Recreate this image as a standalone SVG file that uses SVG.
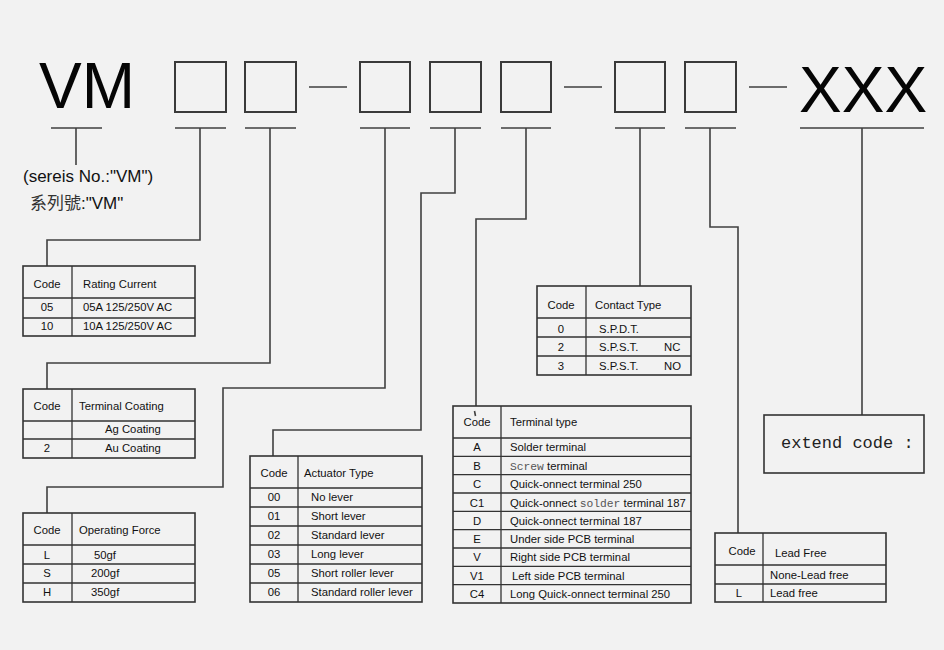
<svg xmlns="http://www.w3.org/2000/svg" width="944" height="650" viewBox="0 0 944 650">
<style>
.bg{fill:#f2f2f2}
.box{fill:none;stroke:#3a3a3a;stroke-width:2}
.tb{fill:none;stroke:#333;stroke-width:1.6}
.tl{stroke:#333;stroke-width:1.3;fill:none}
.cn{fill:none;stroke:#404040;stroke-width:1.6}
text{font-family:"Liberation Sans",Arial,"Noto Sans CJK TC",sans-serif;fill:#111}
.t{font-size:11.3px}
.c{text-anchor:middle}
.big{font-size:64px;fill:#050505}
.mono{font-family:"Liberation Mono","Courier New",monospace;fill:#555}
</style>
<rect class="bg" x="0" y="0" width="944" height="650"/>

<g id="title-vm">
<text class="big" x="39" y="108">VM</text>
<text x="23" y="182" style="font-size:17px">(sereis No.:"VM")</text>
<text x="30" y="209" style="font-size:17px"><tspan style="font-family:'Noto Sans CJK TC','Noto Sans CJK SC',sans-serif;fill:#333">系列號</tspan>:"VM"</text>
</g>
<g id="box1"><rect class="box" x="175" y="62" width="51" height="50"/></g>
<g id="box2"><rect class="box" x="245" y="62" width="51" height="50"/></g>
<g id="box3"><rect class="box" x="360" y="62" width="50" height="50"/></g>
<g id="box4"><rect class="box" x="430" y="62" width="51" height="50"/></g>
<g id="box5"><rect class="box" x="501" y="62" width="50" height="50"/></g>
<g id="box6"><rect class="box" x="615" y="62" width="50" height="50"/></g>
<g id="box7"><rect class="box" x="685" y="62" width="51" height="50"/></g>
<g id="title-xxx"><text class="big" x="799" y="112">XXX</text></g>

<g id="connectors">
<path class="cn" d="M309,87H347M564,87H602M749,87H787"/>
<path class="cn" d="M51,128H102M175,128H226M245,128H296M360,128H410M430,128H481M501,128H551M615,128H665M685,128H736M800,128H924"/>
<path class="cn" d="M76,128V165"/>
<path class="cn" d="M200,128V240H47V266"/>
<path class="cn" d="M270,128V363H47V389"/>
<path class="cn" d="M385,128V388H223V487H47V513"/>
<path class="cn" d="M455,128V193H421V430H273V456"/>
<path class="cn" d="M526,128V219H476V406"/>
<path class="cn" d="M474.5,411L475.5,416"/>
<path class="cn" d="M640,128V286"/>
<path class="cn" d="M710,128V227H738V533"/>
<path class="cn" d="M862,128V415"/>
</g>

<g id="table-rating-current">
<rect class="tb" x="23" y="266" width="172" height="70"/>
<path class="tl" d="M72,266V336M23,298H195M23,318H195"/>
<text class="t c" x="47" y="288">Code</text>
<text class="t" x="83" y="288">Rating Current</text>
<text class="t c" x="47" y="311">05</text>
<text class="t" x="83" y="311">05A 125/250V AC</text>
<text class="t c" x="47" y="330">10</text>
<text class="t" x="83" y="330">10A 125/250V AC</text>
</g>

<g id="table-terminal-coating">
<rect class="tb" x="23" y="389" width="172" height="69"/>
<path class="tl" d="M72,389V458M23,421H195M23,439H195"/>
<text class="t c" x="47" y="410">Code</text>
<text class="t" x="79" y="410">Terminal Coating</text>
<text class="t" x="105" y="433">Ag Coating</text>
<text class="t c" x="47" y="452">2</text>
<text class="t" x="105" y="452">Au Coating</text>
</g>

<g id="table-operating-force">
<rect class="tb" x="23" y="513" width="172" height="89"/>
<path class="tl" d="M72,513V602M23,545H195M23,564H195M23,583H195"/>
<text class="t c" x="47" y="534">Code</text>
<text class="t" x="79" y="534">Operating Force</text>
<text class="t c" x="47" y="559">L</text>
<text class="t" x="94" y="559">50gf</text>
<text class="t c" x="47" y="577">S</text>
<text class="t" x="91" y="577">200gf</text>
<text class="t c" x="47" y="596">H</text>
<text class="t" x="91" y="596">350gf</text>
</g>

<g id="table-actuator-type">
<rect class="tb" x="250" y="456" width="172" height="146"/>
<path class="tl" d="M298,456V602M250,488H422M250,507H422M250,526H422M250,545H422M250,564H422M250,583H422"/>
<text class="t c" x="274" y="477">Code</text>
<text class="t" x="304" y="477">Actuator Type</text>
<text class="t c" x="274" y="501">00</text>
<text class="t" x="311" y="501">No lever</text>
<text class="t c" x="274" y="520">01</text>
<text class="t" x="311" y="520">Short lever</text>
<text class="t c" x="274" y="539">02</text>
<text class="t" x="311" y="539">Standard lever</text>
<text class="t c" x="274" y="558">03</text>
<text class="t" x="311" y="558">Long lever</text>
<text class="t c" x="274" y="577">05</text>
<text class="t" x="311" y="577">Short roller lever</text>
<text class="t c" x="274" y="596">06</text>
<text class="t" x="311" y="596">Standard roller lever</text>
</g>

<g id="table-terminal-type">
<rect class="tb" x="453" y="406" width="238" height="197"/>
<path class="tl" d="M501,406V603M453,438H691M453,456.3H691M453,474.7H691M453,493H691M453,511.3H691M453,529.7H691M453,548H691M453,566.3H691M453,584.7H691"/>
<text class="t c" x="477" y="426">Code</text>
<text class="t" x="510" y="426">Terminal type</text>
<text class="t c" x="477" y="451">A</text>
<text class="t" x="510" y="451">Solder terminal</text>
<text class="t c" x="477" y="469.5">B</text>
<text class="t" x="510" y="469.5"><tspan class="mono">Screw</tspan> terminal</text>
<text class="t c" x="477" y="488">C</text>
<text class="t" x="510" y="488">Quick-onnect terminal 250</text>
<text class="t c" x="477" y="506.5">C1</text>
<text class="t" x="510" y="506.5">Quick-onnect <tspan class="mono">solder</tspan> terminal 187</text>
<text class="t c" x="477" y="524.5">D</text>
<text class="t" x="510" y="524.5">Quick-onnect terminal 187</text>
<text class="t c" x="477" y="543">E</text>
<text class="t" x="510" y="543">Under side PCB terminal</text>
<text class="t c" x="477" y="561">V</text>
<text class="t" x="510" y="561">Right side  PCB terminal</text>
<text class="t c" x="477" y="579.5">V1</text>
<text class="t" x="512" y="579.5">Left side PCB terminal</text>
<text class="t c" x="477" y="598">C4</text>
<text class="t" x="510" y="598">Long Quick-onnect terminal 250</text>
</g>

<g id="table-contact-type">
<rect class="tb" x="537" y="286" width="154" height="89"/>
<path class="tl" d="M586,286V375M537,318H691M537,337H691M537,356H691"/>
<text class="t c" x="561" y="309">Code</text>
<text class="t" x="595" y="309">Contact Type</text>
<text class="t c" x="561" y="333">0</text>
<text class="t" x="599" y="333">S.P.D.T.</text>
<text class="t c" x="561" y="351">2</text>
<text class="t" x="599" y="351">S.P.S.T.</text>
<text class="t" x="664" y="351">NC</text>
<text class="t c" x="561" y="370">3</text>
<text class="t" x="599" y="370">S.P.S.T.</text>
<text class="t" x="664" y="370">NO</text>
</g>

<g id="extend-code">
<rect class="tb" x="764" y="415" width="160" height="58"/>
<text x="781" y="448" style="font-family:'Liberation Mono','Courier New',monospace;font-size:17px;fill:#222">extend code :</text>
</g>

<g id="table-lead-free">
<rect class="tb" x="715" y="533" width="171" height="69"/>
<path class="tl" d="M763,533V602M715,565H886M715,584H886"/>
<text class="t c" x="742" y="555">Code</text>
<text class="t" x="775" y="557">Lead Free</text>
<text class="t" x="770" y="579">None-Lead free</text>
<text class="t c" x="739" y="597">L</text>
<text class="t" x="770" y="597">Lead free</text>
</g>
</svg>
